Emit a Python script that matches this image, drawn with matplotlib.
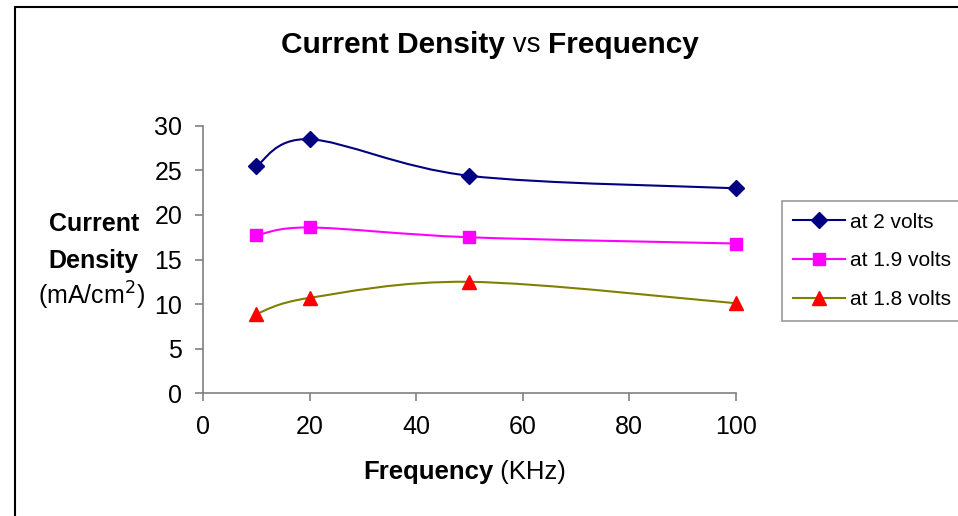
import numpy as np
import matplotlib.pyplot as plt
from matplotlib.path import Path
from matplotlib.patches import PathPatch, Rectangle

plt.rcParams['font.family'] = ['Liberation Sans', 'DejaVu Sans']

# data
freq = [10, 20, 50, 100]
at_2v = [25.5, 28.5, 24.4, 23.0]
at_19v = [17.7, 18.6, 17.5, 16.8]
at_18v = [8.9, 10.7, 12.5, 10.1]
labels = ['at 2 volts', 'at 1.9 volts', 'at 1.8 volts']


def smooth_path(x, y):
    # excel-like smoothed line: bezier segments through the points
    p = np.column_stack([x, y]).astype(float)
    n = len(p)
    verts = [p[0]]
    codes = [Path.MOVETO]
    for i in range(n - 1):
        p0 = p[i - 1] if i > 0 else p[i]
        p3 = p[i + 2] if i + 2 < n else p[i + 1]
        c1 = p[i] + (p[i + 1] - p0) / 6.0
        c2 = p[i + 1] - (p3 - p[i]) / 6.0
        verts += [c1, c2, p[i + 1]]
        codes += [Path.CURVE4] * 3
    return Path(verts, codes)


fig = plt.figure(figsize=(9.58, 5.16), dpi=100)
ax = fig.add_axes([0.212, 0.238, 0.556, 0.518])

series = [at_2v, at_19v, at_18v]
line_cols = ['#000080', '#FF00FF', '#808000']
mark_cols = ['#000080', '#FF00FF', '#FF0000']
markers = ['D', 's', '^']
msizes = [8, 8.5, 9.5]
handles = []
for ys, lc, mc, m, ms, lab in zip(series, line_cols, mark_cols, markers, msizes, labels):
    ax.add_patch(PathPatch(smooth_path(freq, ys), facecolor='none', edgecolor=lc, lw=1.5))
    ax.plot(freq, ys, ls='none', marker=m, ms=ms, color=mc, zorder=3, clip_on=False)
    h, = ax.plot([], [], color=lc, lw=1.5, marker=m, ms=ms, mfc=mc, mec=mc, label=lab)
    handles.append(h)

ax.set_xlim(0, 100)
ax.set_ylim(0, 30)
ax.set_xticks(range(0, 101, 20))
ax.set_yticks(range(0, 31, 5))
for s in ['top', 'right']:
    ax.spines[s].set_visible(False)
for s in ['left', 'bottom']:
    ax.spines[s].set_color('#808080')
    ax.spines[s].set_linewidth(1.2)
ax.tick_params(colors='#808080', labelcolor='black', labelsize=18, length=6, width=1.2)
ax.tick_params(axis='x', pad=10)
ax.tick_params(axis='y', pad=9)

# title: bold / normal / bold pieces chained one after another
t1 = fig.text(0.293, 0.912, 'Current Density', fontsize=21.5, fontweight='bold', ha='left', va='center')
t2 = ax.annotate(' vs ', xy=(1, 0.5), xycoords=t1, fontsize=20, ha='left', va='center',
                 annotation_clip=False)
ax.annotate('Frequency', xy=(1, 0.5), xycoords=t2, fontsize=21.5, fontweight='bold', ha='left',
            va='center', annotation_clip=False)

x1 = fig.text(0.379, 0.085, 'Frequency', fontsize=18.5, fontweight='bold', ha='left', va='center')
ax.annotate(' (KHz)', xy=(1, 0.5), xycoords=x1, fontsize=18.5, ha='left', va='center',
            annotation_clip=False)

fig.text(0.145, 0.565, 'Current', fontsize=18, fontweight='bold', ha='right', va='center')
fig.text(0.145, 0.495, 'Density', fontsize=18, fontweight='bold', ha='right', va='center')
fig.text(0.151, 0.427, '(mA/cm$^2$)', fontsize=18, ha='right', va='center')

leg = ax.legend(handles=handles, loc='upper left', bbox_to_anchor=(0.816, 0.61),
                bbox_transform=fig.transFigure, fontsize=15, frameon=True, fancybox=False,
                handlelength=2.5, borderpad=0.55, labelspacing=0.95, handletextpad=0.25,
                borderaxespad=0)
leg.get_frame().set_edgecolor('#808080')
leg.get_frame().set_linewidth(1.2)

fig.patches.append(Rectangle((0.016, -0.05), 1.2, 1.036, transform=fig.transFigure,
                             fill=False, edgecolor='black', lw=1.5))

fig.savefig('out.png', dpi=100)
